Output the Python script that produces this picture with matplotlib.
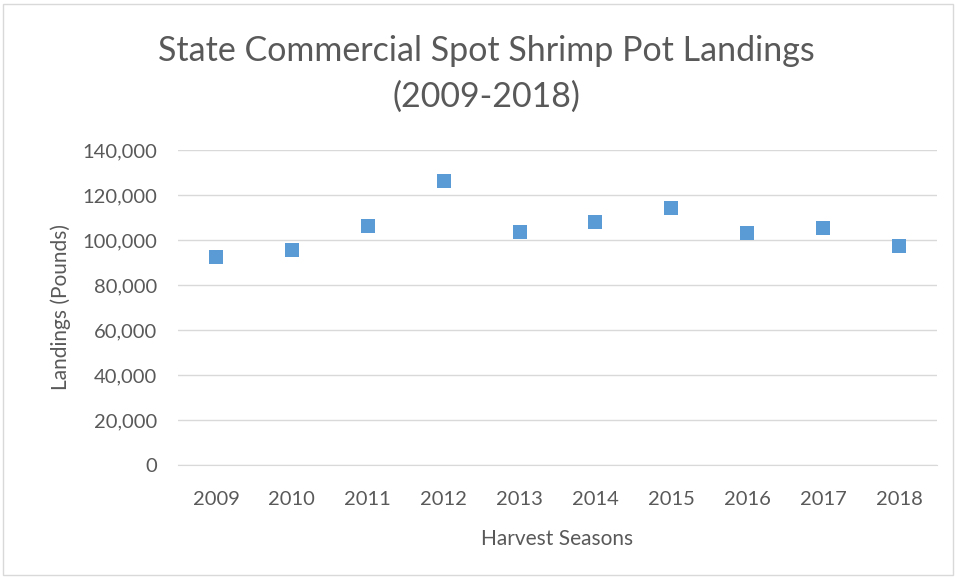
import matplotlib.pyplot as plt
from matplotlib.patches import Rectangle

years = ["2009", "2010", "2011", "2012", "2013", "2014", "2015", "2016", "2017", "2018"]
landings = [92300, 95700, 106200, 126400, 103400, 108100, 114400, 103300, 105200, 97300]
yticks = [0, 20000, 40000, 60000, 80000, 100000, 120000, 140000]

plt.rcParams['font.family'] = ['Lato', 'DejaVu Sans']
txt = '#595959'

fig = plt.figure(figsize=(9.56, 5.77), dpi=100)
fig.patches.append(Rectangle((3/956, 2/577), 950/956, 571/577, transform=fig.transFigure,
                             fill=False, edgecolor='#D9D9D9', linewidth=1))
ax = fig.add_axes([178/956, 1 - 465/577, 759/956, 315/577])
x = list(range(len(years)))
ax.scatter(x, landings, marker='s', s=115, color='#5B9BD5', zorder=3, linewidths=0)
ax.set_xlim(-0.5, len(years) - 0.5)
ax.set_ylim(0, 140000)
ax.set_yticks(yticks)
ax.set_yticklabels([f"{v:,}" for v in yticks])
ax.set_xticks(x)
ax.set_xticklabels(years)
ax.grid(axis='y', color='#D9D9D9', linewidth=1)
ax.set_axisbelow(True)
for s in ['top', 'right', 'left']:
    ax.spines[s].set_visible(False)
ax.spines['bottom'].set_color('#D9D9D9')
ax.tick_params(axis='both', length=0, labelsize=14.5, colors=txt)
ax.tick_params(axis='y', pad=15)
ax.tick_params(axis='x', pad=19)
ax.set_xlabel('Harvest Seasons', fontsize=15, color=txt, labelpad=15)
ax.set_ylabel('Landings (Pounds)', fontsize=15, color=txt, labelpad=8)
fig.text(486/956, 1 - 74/577, 'State Commercial Spot Shrimp Pot Landings\n(2009-2018)',
         ha='center', va='center', fontsize=24.5, color=txt, fontweight='normal', linespacing=1.5)
fig.savefig('out.png', dpi=100)
